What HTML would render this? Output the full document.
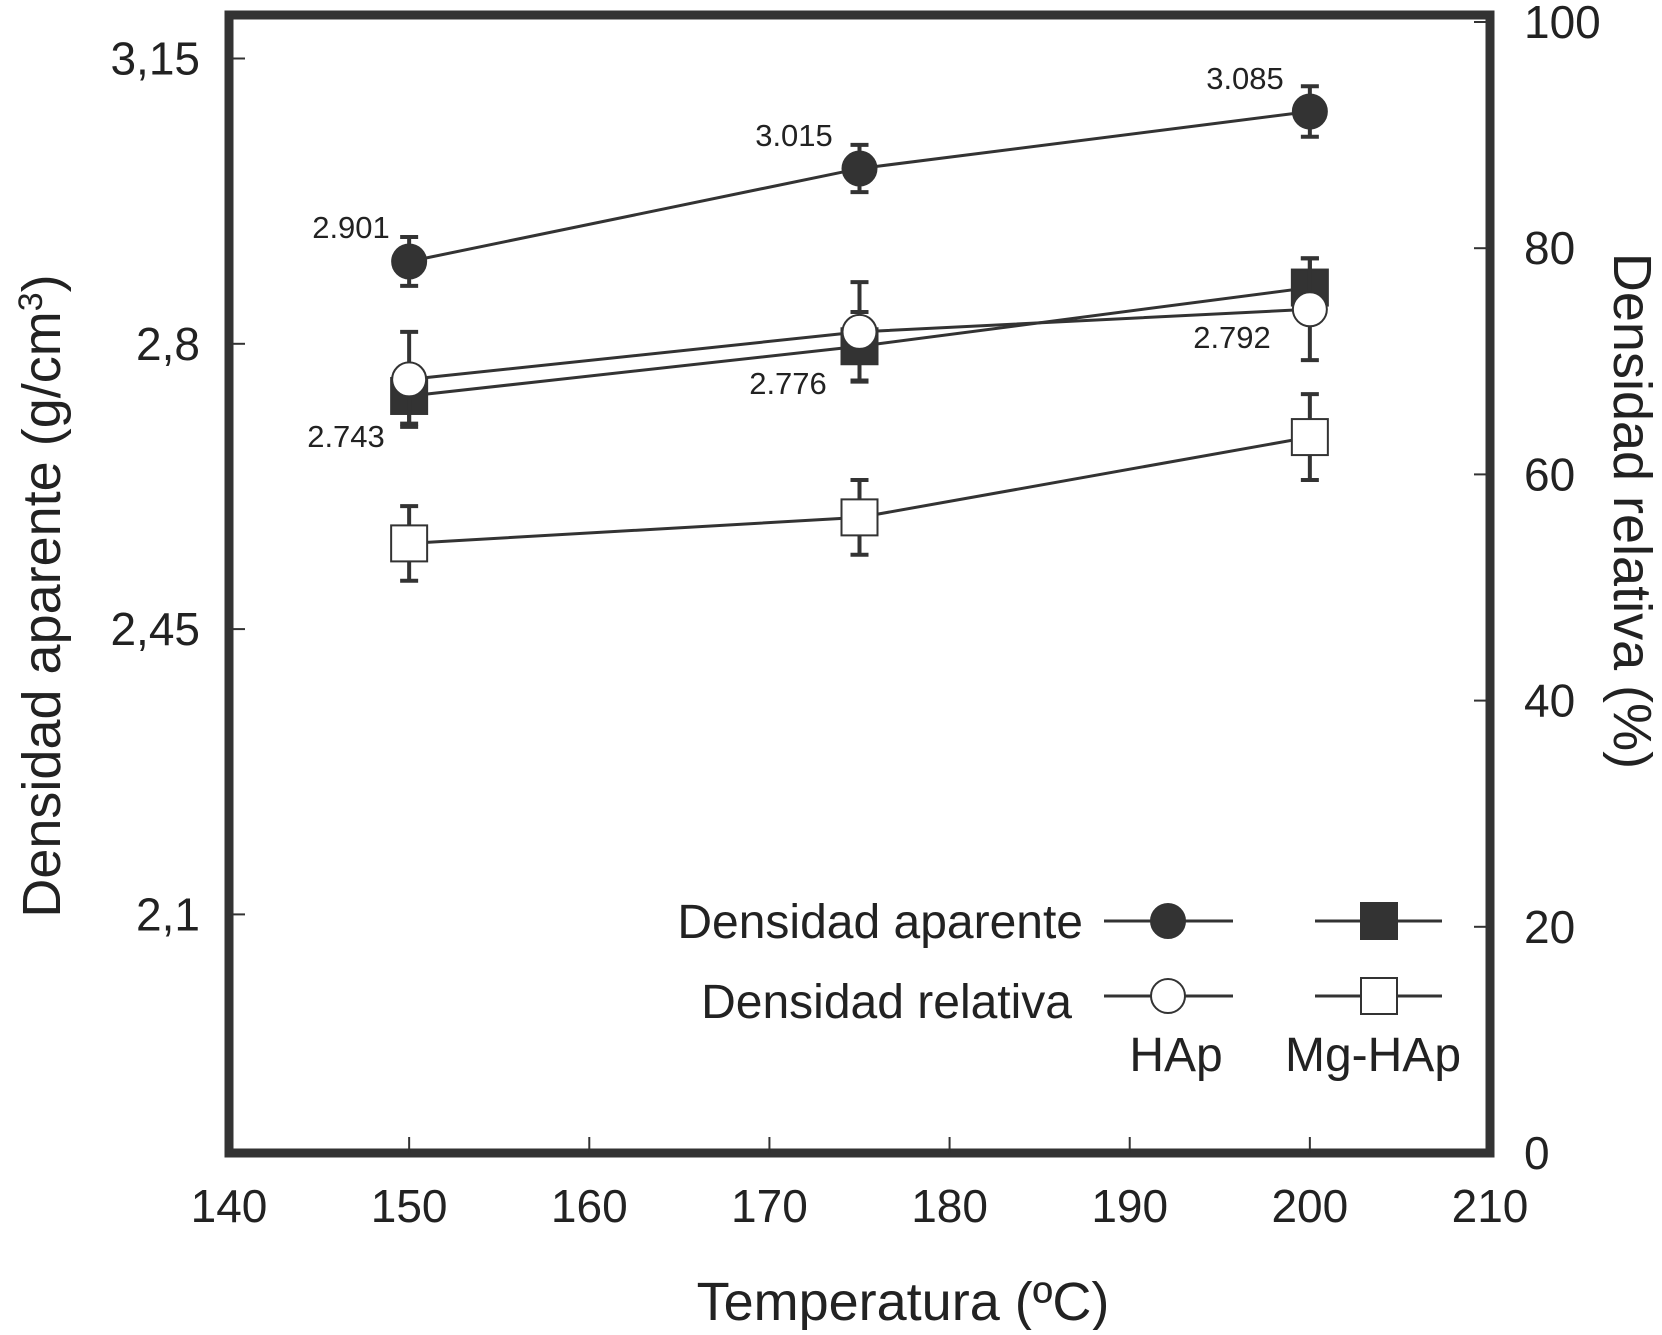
<!DOCTYPE html>
<html><head><meta charset="utf-8"><style>
body{margin:0;background:#fff;}
svg text{font-family:"Liberation Sans",Arial,sans-serif;fill:#222;}
</style></head><body>
<svg id="chart" width="1662" height="1330" xmlns="http://www.w3.org/2000/svg">
<g id="marks"></g>
</svg>
<script>
const temps=[150,175,200];
const hapApparent=[2.901,3.015,3.085];
const hapApparentErr=[0.03,0.029,0.031];
const mgApparent=[2.736,2.797,2.869];
const mgApparentErr=[0.034,0.042,0.036];
const hapRelative=[68.4,72.6,74.6];
const hapRelativeErr=[4.2,4.4,4.5];
const mgRelative=[53.9,56.2,63.3];
const mgRelativeErr=[3.3,3.3,3.8];
const xTicks=[140,150,160,170,180,190,200,210];
const yLeftTicks=[3.15,2.8,2.45,2.1];
const yLeftTickLabels=["3,15","2,8","2,45","2,1"];
const yRightTicks=[0,20,40,60,80,100];
const pointLabels=["2.901","3.015","3.085"];
const mgLabels=["2.743","2.776","2.792"];

const L=229,R=1490,T=15,B=1153;
const X=v=>L+(v-140)/70*(R-L);
const YL=v=>58.5+(3.15-v)/0.35*285.3;
const YR=v=>B-v/100*(B-22);
const svg=document.getElementById('chart');
const NS='http://www.w3.org/2000/svg';
function el(tag,attrs,parent){const e=document.createElementNS(NS,tag);for(const k in attrs)e.setAttribute(k,attrs[k]);(parent||svg).appendChild(e);return e;}
function txt(s,attrs){const t=el('text',attrs);t.textContent=s;return t;}

let f=el('rect',{x:L,y:T,width:R-L,height:B-T,fill:'none',stroke:'#333','stroke-width':9});



xTicks.forEach(v=>{
  let t=el('line',{x1:X(v),x2:X(v),y1:B,y2:B-16,stroke:'#333','stroke-width':2});
  
  
  let l=txt(String(v),{x:X(v),y:1222,'font-size':46,'text-anchor':'middle'});
  
  
});
yLeftTicks.forEach((v,i)=>{
  let t=el('line',{x1:L,x2:L+16,y1:YL(v),y2:YL(v),stroke:'#333','stroke-width':2});
  
  
  let l=txt(yLeftTickLabels[i],{x:200,y:YL(v)+16,'font-size':46,'text-anchor':'end'});
  
  
});
yRightTicks.forEach(v=>{
  let t=el('line',{x1:R,x2:R-16,y1:YR(v),y2:YR(v),stroke:'#333','stroke-width':2});
  
  
  let l=txt(String(v),{x:1524,y:YR(v)+16,'font-size':46,'text-anchor':'start'});
  
  
});

let xt=txt('Temperatura (ºC)',{x:903,y:1320,'font-size':54,'text-anchor':'middle'});


let ylt=txt('',{x:0,y:0,'font-size':54,'text-anchor':'middle',transform:'translate(60,596) rotate(-90)'});
ylt.innerHTML='Densidad aparente (g/cm<tspan dy="-18" font-size="34">3</tspan><tspan dy="18">)</tspan>';


let yrt=txt('Densidad relativa (%)',{x:0,y:0,'font-size':54,'text-anchor':'middle',transform:'translate(1614,511) rotate(90)'});



function series(vals,errs,Y,shape,filled,name){
  const g=el('g',{});
  
  
  const pts=vals.map((v,i)=>X(temps[i])+','+Y(v)).join(' ');
  el('polyline',{points:pts,fill:'none',stroke:'#333','stroke-width':3},g);
  vals.forEach((v,i)=>{
    const x=X(temps[i]),y0=Y(v+errs[i]),y1=Y(v-errs[i]);
    const eb=el('path',{d:`M${x},${y0}V${y1}M${x-9},${y0}h18M${x-9},${y1}h18`,stroke:'#333','stroke-width':4,fill:'none'},g);
    
    
    let m;
    if(shape==='circle') m=el('circle',{cx:x,cy:Y(v),r:17,fill:filled?'#333':'#fff',stroke:'#333','stroke-width':2},g);
    else m=el('rect',{x:x-18,y:Y(v)-18,width:36,height:36,fill:filled?'#333':'#fff',stroke:'#333','stroke-width':2},g);
    
    
  });
}
series(mgRelative,mgRelativeErr,YR,'square',false,'mg-hap-relative-series');
series(mgApparent,mgApparentErr,YL,'square',true,'mg-hap-apparent-series');
series(hapRelative,hapRelativeErr,YR,'circle',false,'hap-relative-series');
series(hapApparent,hapApparentErr,YL,'circle',true,'hap-apparent-series');

const plPos=[[351,238],[794,146],[1245,89]];
pointLabels.forEach((s,i)=>{let t=txt(s,{x:plPos[i][0],y:plPos[i][1],'font-size':31,'text-anchor':'middle'});

});
const mlPos=[[346,447],[788,394],[1232,348]];
mgLabels.forEach((s,i)=>{let t=txt(s,{x:mlPos[i][0],y:mlPos[i][1],'font-size':31,'text-anchor':'middle'});

});

const lg=el('g',{});


function lt(s,x,y,a,name){const t=el('text',{x:x,y:y,'font-size':48,'text-anchor':a},lg);t.textContent=s;

}
lt('Densidad aparente',1083,938,'end','legend-label-apparent');
lt('Densidad relativa',1072,1018,'end','legend-label-relative');
lt('HAp',1176,1071,'middle','legend-label-hap');
lt('Mg-HAp',1373,1071,'middle','legend-label-mg-hap');
[[921,true],[996,false]].forEach(([y,fill])=>{
  el('line',{x1:1104,x2:1233,y1:y,y2:y,stroke:'#333','stroke-width':3},lg);
  let c=el('circle',{cx:1168,cy:y,r:17,fill:fill?'#333':'#fff',stroke:'#333','stroke-width':2},lg);
  
  
  el('line',{x1:1315,x2:1442,y1:y,y2:y,stroke:'#333','stroke-width':3},lg);
  let r=el('rect',{x:1361,y:y-18,width:36,height:36,fill:fill?'#333':'#fff',stroke:'#333','stroke-width':2},lg);
  
  
});
</script>
</body></html>
